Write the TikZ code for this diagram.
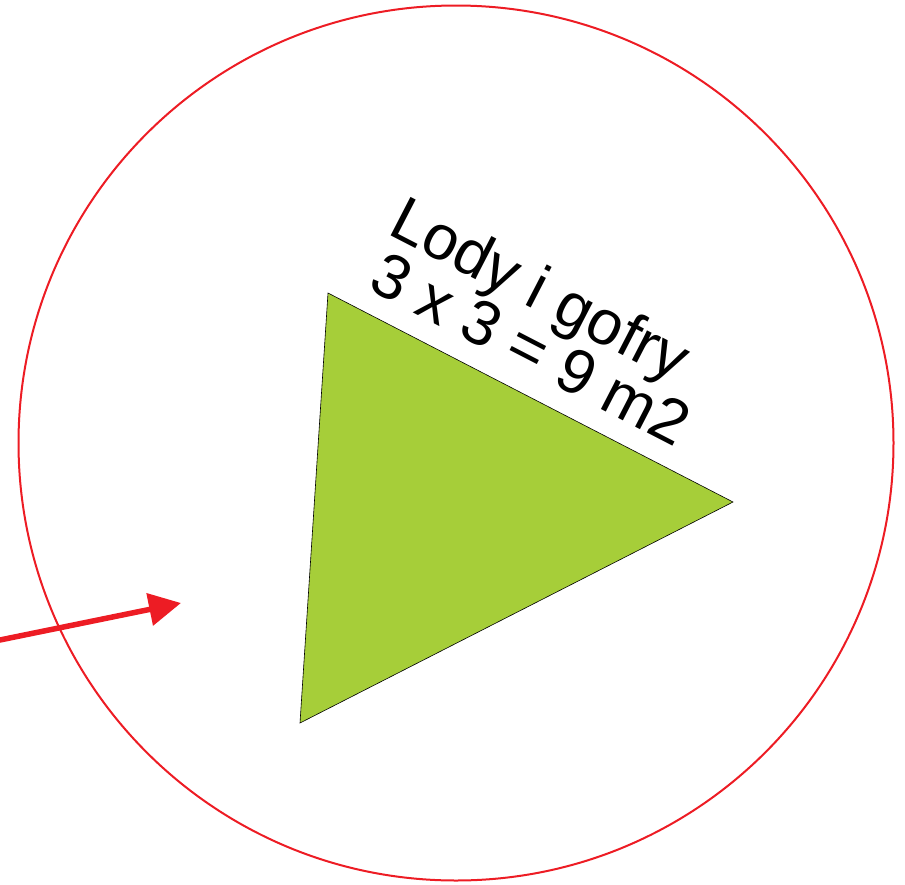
\documentclass[tikz,border=0pt]{standalone}
\usepackage{fontspec}
\setmainfont{Liberation Sans}
\usetikzlibrary{arrows.meta}
\definecolor{ringred}{HTML}{ED1C24}
\definecolor{kiosk}{HTML}{A6CE39}
\tikzset{
  ring/.style={draw=ringred, line width=2pt},
  kioskshape/.style={fill=kiosk, draw=black, line width=0.6pt, line join=miter},
  pointer/.style={draw=ringred, line width=5.5pt, -{Triangle[length=32pt,width=32pt]}, ringred},
  label/.style={inner sep=0pt, outer sep=0pt, anchor=base west, rotate=-27.3,
    font=\fontsize{63}{59}\selectfont}
}
\begin{document}
\begin{tikzpicture}[x=1pt,y=-1pt]
\useasboundingbox (0,0) rectangle (905,884);
\node[ring, circle, minimum size=875pt, inner sep=0pt] (area) at (456,443) {};
\coordinate (t1) at (328,293);
\coordinate (t2) at (733,502);
\coordinate (t3) at (300,723);
\path[kioskshape] (t1) -- (t2) -- (t3) -- cycle;
\node[label] (name) at (386,233) {Lody i gofry};
\node[label] (size) at (366,288) {3 x 3 = 9 m2};
\coordinate (arrowstart) at (-5,641);
\coordinate (arrowtip) at (181,603);
\draw[pointer] (arrowstart) -- (arrowtip);
\end{tikzpicture}
\end{document}
